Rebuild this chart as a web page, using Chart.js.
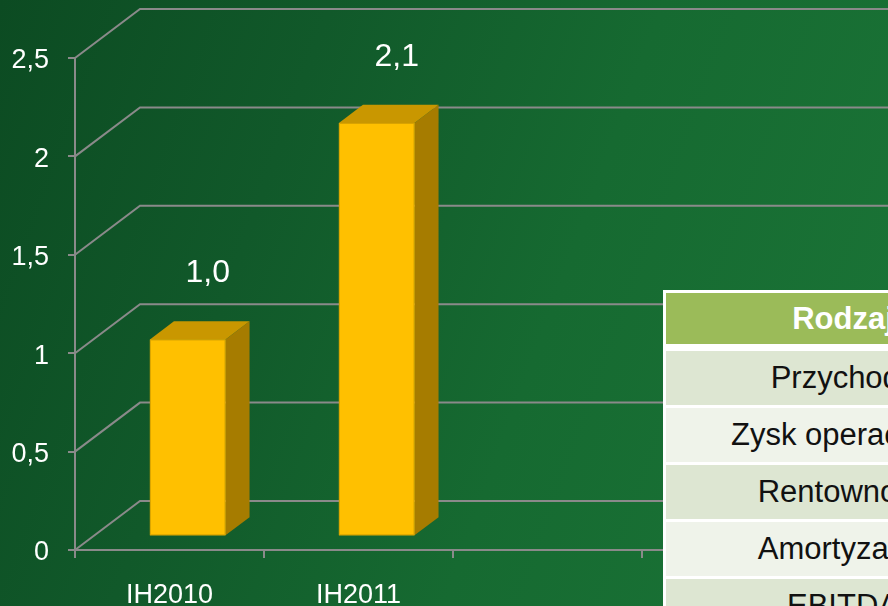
<!DOCTYPE html>
<html lang="pl">
<head>
    <meta charset="UTF-8">
    <title>IH2010 / IH2011</title>
    <script src="https://cdn.jsdelivr.net/npm/chart.js"></script>
    <style>
        html, body { margin: 0; padding: 0; }
        body { width: 888px; height: 606px; overflow: hidden; position: relative;
               font-family: Arial, "Liberation Sans", sans-serif;
               background: linear-gradient(110deg, #0c4b22 0%, #11592a 30%, #166a31 60%, #1b7537 100%); }
        .wrap { position: absolute; left: 0; top: 0; width: 888px; height: 606px; }
        .tbl { position: absolute; left: 663px; top: 290px; width: 354px; background: #fff; padding: 3px 3px 0 3px; }
        .tbl .hd { height: 51px; line-height: 51px; background: #9bbb59; color: #fff; font-weight: bold;
                   font-size: 31px; text-align: center; margin-bottom: 7px; }
        .tbl .row { height: 54px; line-height: 54px; font-size: 31px; color: #111; text-align: center; margin-bottom: 3px; }
        .tbl .row:nth-child(even) { background: #dde6d2; }
        .tbl .row:nth-child(odd) { background: #eff3ea; }
    </style>
</head>
<body>
    <div class="wrap"><canvas id="chart"></canvas></div>
    <div class="tbl" id="tbl"></div>

    <script>
        const categories = ["IH2010", "IH2011", "", ""];
        const values = [1.0, 2.1, null, null];
        const yTicks = [0, 0.5, 1, 1.5, 2, 2.5];
        const tableHeader = "Rodzaj";
        const tableRows = ["Przychody", "Zysk operacyjny", "Rentowność", "Amortyzacja", "EBITDA"];

        const gridColor = "#8a8a8a";
        const depth = { dx: 65, dy: -49 };
        const barFront = 0.28, barBack = 0.65;
        const plFmt = (v, d) => (d != null ? v.toFixed(d) : String(v)).replace(".", ",");

        // table overlay
        const tbl = document.getElementById("tbl");
        tbl.innerHTML = '<div class="hd">' + tableHeader + '</div>' +
            tableRows.map(r => '<div class="row">' + r + '</div>').join("");

        const threeD = {
            id: "threeD",
            beforeDatasetsDraw(chart) {
                const ctx = chart.ctx, y = chart.scales.y, area = chart.chartArea;
                ctx.save();
                ctx.strokeStyle = gridColor;
                ctx.lineWidth = 2;
                yTicks.forEach(t => {
                    const py = y.getPixelForValue(t);
                    ctx.beginPath();
                    ctx.moveTo(area.left, py);
                    ctx.lineTo(area.left + depth.dx, py + depth.dy);
                    ctx.lineTo(chart.width + 10, py + depth.dy);
                    ctx.stroke();
                });
                ctx.restore();
            },
            afterDatasetsDraw(chart) {
                const ctx = chart.ctx;
                const meta = chart.getDatasetMeta(0);
                const ox = barFront * depth.dx, oy = barFront * depth.dy;
                const bdx = (barBack - barFront) * depth.dx, bdy = (barBack - barFront) * depth.dy;
                ctx.save();
                meta.data.forEach((bar, i) => {
                    if (values[i] == null) return;
                    const p = bar.getProps(["x", "y", "base", "width"], true);
                    const L = p.x - p.width / 2 + ox, R = p.x + p.width / 2 + ox;
                    const T = p.y + oy, B = p.base + oy;
                    // side
                    ctx.fillStyle = "#a67c00";
                    ctx.beginPath();
                    ctx.moveTo(R, T); ctx.lineTo(R + bdx, T + bdy); ctx.lineTo(R + bdx, B + bdy); ctx.lineTo(R, B);
                    ctx.closePath(); ctx.fill();
                    // top
                    ctx.fillStyle = "#c99700";
                    ctx.beginPath();
                    ctx.moveTo(L, T); ctx.lineTo(L + bdx, T + bdy); ctx.lineTo(R + bdx, T + bdy); ctx.lineTo(R, T);
                    ctx.closePath(); ctx.fill();
                    // front
                    ctx.fillStyle = "#ffc000";
                    ctx.fillRect(L, T, R - L, B - T);
                    ctx.strokeStyle = "#d9a300";
                    ctx.lineWidth = 1;
                    ctx.strokeRect(L + 0.5, T + 0.5, R - L - 1, B - T - 1);
                    // value label
                    ctx.fillStyle = "#fff";
                    ctx.font = "32px Arial, 'Liberation Sans', sans-serif";
                    ctx.textAlign = "center";
                    ctx.textBaseline = "middle";
                    ctx.fillText(plFmt(values[i], 1), (L + R) / 2 + 20, T - 66);
                });
                ctx.restore();
            }
        };

        new Chart(document.getElementById("chart"), {
            type: "bar",
            data: {
                labels: categories,
                datasets: [{
                    data: values,
                    backgroundColor: "rgba(0,0,0,0)",
                    borderWidth: 0,
                    barPercentage: 0.4,
                    categoryPercentage: 1
                }]
            },
            options: {
                responsive: true,
                maintainAspectRatio: false,
                animation: false,
                layout: { padding: { top: 58, right: 57, left: 0, bottom: 0 } },
                plugins: { legend: { display: false }, tooltip: { enabled: false } },
                scales: {
                    x: {
                        grid: { drawOnChartArea: false, drawTicks: true, tickLength: 8, color: gridColor, lineWidth: 2, offset: true },
                        border: { color: gridColor, width: 2 },
                        ticks: { color: "#fff", font: { size: 27, family: "Arial, 'Liberation Sans', sans-serif" }, padding: 21, maxRotation: 0 },
                        afterFit(scale) { scale.height = 56; }
                    },
                    y: {
                        min: 0, max: 2.5,
                        afterBuildTicks(scale) { scale.ticks = yTicks.map(v => ({ value: v })); },
                        grid: { drawOnChartArea: false, drawTicks: true, tickLength: 7, color: gridColor, lineWidth: 2 },
                        border: { color: gridColor, width: 2 },
                        ticks: { color: "#fff", font: { size: 27, family: "Arial, 'Liberation Sans', sans-serif" }, padding: 19,
                                 labelOffset: 3, callback: v => plFmt(v) },
                        afterFit(scale) { scale.width = 75; }
                    }
                }
            },
            plugins: [threeD]
        });
    </script>
</body>
</html>
